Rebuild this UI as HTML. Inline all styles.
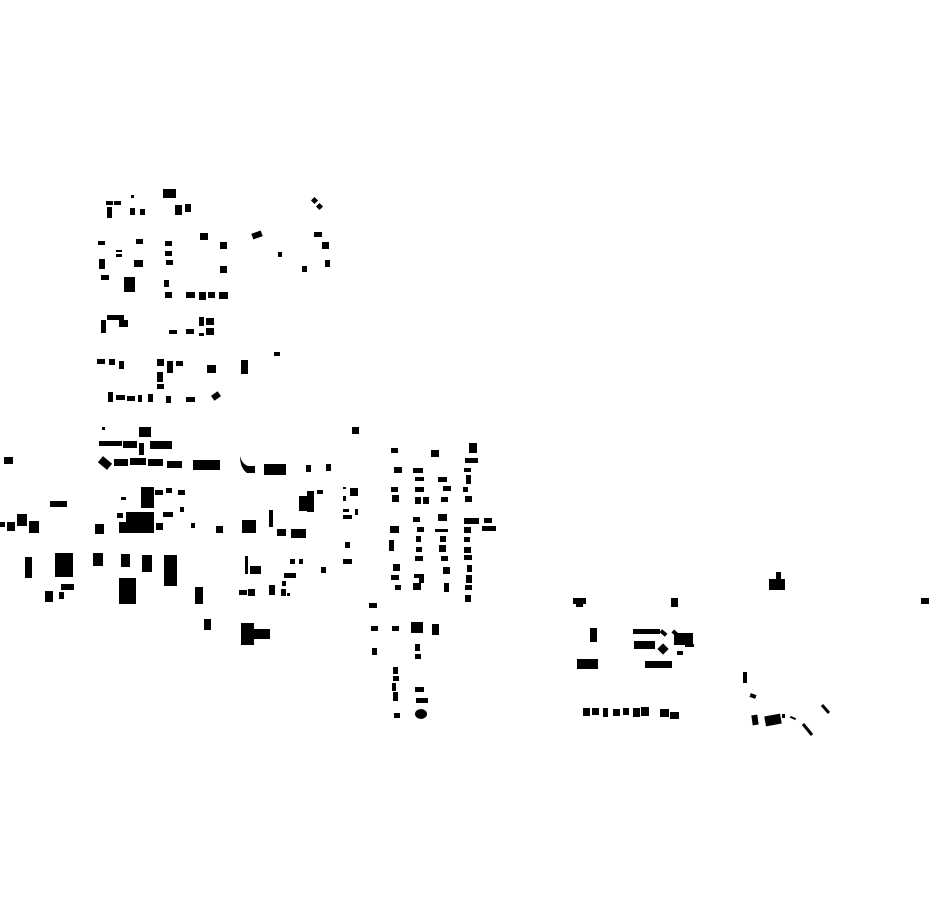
<!DOCTYPE html>
<html><head><meta charset="utf-8"><style>html,body{margin:0;padding:0;background:#fff;width:930px;height:924px;overflow:hidden}</style></head>
<body>
<svg width="930" height="924" viewBox="0 0 930 924" xmlns="http://www.w3.org/2000/svg">
<g fill="#000">
<!-- NW cluster -->
<rect x="106" y="201" width="7" height="4"/><rect x="114" y="201" width="7" height="4"/>
<rect x="107" y="207" width="5" height="11"/><rect x="131" y="195" width="3" height="3"/>
<rect x="163" y="189" width="13" height="9"/><rect x="130" y="208" width="5" height="7"/>
<rect x="140" y="209" width="5" height="6"/><rect x="175" y="205" width="7" height="10"/>
<rect x="185" y="204" width="6" height="8"/>
<rect x="312" y="198" width="5" height="5" transform="rotate(45 314.5 200.5)"/>
<rect x="317" y="204" width="5" height="5" transform="rotate(45 319.5 206.5)"/>
<rect x="98" y="241" width="7" height="4"/><rect x="136" y="239" width="7" height="5"/>
<rect x="165" y="241" width="7" height="5"/><rect x="200" y="233" width="8" height="7"/>
<rect x="252" y="232" width="10" height="6" transform="rotate(-20 257 235)"/>
<rect x="314" y="232" width="8" height="5"/><rect x="116" y="250" width="6" height="2"/>
<rect x="116" y="254" width="6" height="3"/><rect x="165" y="251" width="7" height="5"/>
<rect x="220" y="242" width="7" height="7"/><rect x="322" y="242" width="7" height="7"/>
<rect x="99" y="259" width="6" height="10"/><rect x="134" y="260" width="9" height="7"/>
<rect x="166" y="260" width="7" height="5"/><rect x="278" y="252" width="4" height="5"/>
<rect x="220" y="266" width="7" height="7"/><rect x="302" y="266" width="5" height="6"/>
<rect x="325" y="260" width="5" height="7"/><rect x="101" y="275" width="8" height="5"/>
<rect x="124" y="277" width="11" height="15"/><rect x="164" y="280" width="5" height="7"/>
<rect x="165" y="292" width="7" height="6"/><rect x="186" y="292" width="9" height="6"/>
<rect x="199" y="292" width="7" height="8"/><rect x="208" y="292" width="7" height="6"/>
<rect x="219" y="292" width="9" height="7"/>
<rect x="107" y="315" width="17" height="5"/><rect x="119" y="320" width="9" height="7"/>
<rect x="101" y="320" width="5" height="13"/>
<rect x="169" y="330" width="8" height="4"/><rect x="186" y="329" width="8" height="5"/>
<rect x="199" y="317" width="5" height="9"/><rect x="206" y="318" width="8" height="7"/>
<rect x="199" y="333" width="5" height="3"/><rect x="206" y="328" width="8" height="7"/>
<rect x="274" y="352" width="6" height="4"/>
<rect x="97" y="359" width="8" height="5"/><rect x="109" y="359" width="6" height="6"/>
<rect x="119" y="361" width="5" height="8"/><rect x="157" y="359" width="7" height="7"/>
<rect x="167" y="361" width="6" height="12"/><rect x="176" y="361" width="7" height="5"/>
<rect x="207" y="365" width="9" height="8"/><rect x="241" y="360" width="7" height="14"/>
<rect x="157" y="372" width="6" height="10"/><rect x="157" y="384" width="7" height="5"/>
<rect x="108" y="392" width="5" height="10"/><rect x="116" y="395" width="9" height="5"/>
<rect x="127" y="396" width="8" height="5"/><rect x="138" y="395" width="4" height="7"/>
<rect x="148" y="394" width="5" height="8"/><rect x="166" y="396" width="5" height="7"/>
<rect x="186" y="397" width="9" height="5"/>
<rect x="212" y="393" width="8" height="6" transform="rotate(-35 216 396)"/>
<!-- W cluster -->
<rect x="102" y="427" width="3" height="3"/><rect x="139" y="427" width="12" height="10"/>
<rect x="99" y="441" width="23" height="5"/><rect x="123" y="441" width="14" height="7"/>
<rect x="139" y="443" width="5" height="12"/><rect x="150" y="441" width="22" height="8"/>
<rect x="4" y="457" width="9" height="7"/>
<rect x="99" y="459" width="12" height="8" transform="rotate(40 105 463)"/>
<rect x="114" y="459" width="14" height="7"/><rect x="130" y="458" width="16" height="7"/>
<rect x="148" y="459" width="15" height="7"/><rect x="167" y="461" width="15" height="7"/>
<rect x="193" y="460" width="27" height="10"/>
<path d="M240 456 Q242 464 248 466 L255 466 L255 473 L247 473 Q240 468 240 456 Z"/>
<rect x="264" y="464" width="22" height="11"/>
<rect x="306" y="465" width="5" height="7"/><rect x="326" y="464" width="5" height="7"/>
<rect x="352" y="427" width="7" height="7"/><rect x="50" y="501" width="17" height="6"/>
<rect x="141" y="487" width="13" height="21"/><rect x="155" y="490" width="8" height="5"/>
<rect x="166" y="488" width="6" height="5"/><rect x="178" y="490" width="7" height="5"/>
<rect x="121" y="497" width="5" height="3"/><rect x="117" y="513" width="6" height="5"/>
<rect x="126" y="512" width="28" height="21"/><rect x="119" y="522" width="10" height="11"/>
<rect x="163" y="512" width="10" height="5"/><rect x="180" y="507" width="4" height="5"/>
<rect x="156" y="523" width="7" height="7"/><rect x="191" y="523" width="4" height="5"/>
<rect x="0" y="522" width="5" height="5"/><rect x="7" y="522" width="8" height="9"/>
<rect x="17" y="514" width="10" height="12"/><rect x="29" y="521" width="10" height="12"/>
<rect x="95" y="524" width="9" height="10"/><rect x="216" y="526" width="7" height="7"/>
<rect x="242" y="520" width="14" height="13"/><rect x="269" y="510" width="4" height="17"/>
<rect x="277" y="529" width="9" height="7"/><rect x="291" y="529" width="15" height="9"/>
<rect x="299" y="496" width="9" height="15"/><rect x="307" y="491" width="7" height="21"/>
<rect x="317" y="490" width="6" height="4"/><rect x="343" y="487" width="3" height="2"/>
<rect x="350" y="488" width="8" height="8"/><rect x="343" y="496" width="3" height="5"/>
<rect x="343" y="509" width="6" height="3"/><rect x="343" y="515" width="9" height="4"/>
<rect x="355" y="509" width="3" height="6"/><rect x="345" y="542" width="5" height="6"/>
<rect x="343" y="559" width="9" height="5"/>
<rect x="25" y="557" width="7" height="21"/><rect x="55" y="553" width="18" height="24"/>
<rect x="93" y="553" width="10" height="13"/><rect x="121" y="554" width="9" height="13"/>
<rect x="142" y="555" width="10" height="17"/><rect x="164" y="555" width="13" height="31"/>
<rect x="61" y="584" width="13" height="6"/><rect x="45" y="591" width="8" height="11"/>
<rect x="59" y="592" width="5" height="7"/><rect x="119" y="578" width="17" height="26"/>
<rect x="195" y="587" width="8" height="17"/><rect x="204" y="619" width="7" height="11"/>
<rect x="241" y="623" width="13" height="22"/><rect x="253" y="629" width="17" height="10"/>
<rect x="245" y="556" width="3" height="18"/><rect x="250" y="566" width="11" height="8"/>
<rect x="239" y="590" width="8" height="5"/><rect x="248" y="589" width="7" height="7"/>
<rect x="269" y="585" width="6" height="10"/><rect x="282" y="581" width="4" height="5"/>
<rect x="281" y="589" width="5" height="7"/><rect x="287" y="593" width="3" height="3"/>
<rect x="284" y="573" width="12" height="5"/><rect x="290" y="559" width="5" height="5"/>
<rect x="299" y="559" width="4" height="5"/><rect x="321" y="567" width="5" height="6"/>
<!-- Middle cluster -->
<rect x="391" y="448" width="7" height="5"/><rect x="431" y="450" width="8" height="7"/>
<rect x="469" y="443" width="8" height="10"/><rect x="465" y="458" width="13" height="5"/>
<rect x="394" y="467" width="8" height="6"/><rect x="413" y="468" width="10" height="5"/>
<rect x="464" y="468" width="7" height="4"/><rect x="415" y="477" width="9" height="4"/>
<rect x="438" y="477" width="9" height="5"/><rect x="466" y="475" width="5" height="9"/>
<rect x="391" y="487" width="7" height="5"/><rect x="415" y="487" width="9" height="5"/>
<rect x="443" y="486" width="8" height="5"/><rect x="463" y="487" width="5" height="5"/>
<rect x="392" y="495" width="7" height="7"/><rect x="415" y="497" width="6" height="7"/>
<rect x="423" y="497" width="6" height="7"/><rect x="441" y="497" width="7" height="5"/>
<rect x="465" y="496" width="7" height="6"/><rect x="413" y="517" width="7" height="5"/>
<rect x="438" y="514" width="9" height="7"/><rect x="464" y="518" width="15" height="6"/>
<rect x="484" y="518" width="8" height="5"/><rect x="390" y="526" width="9" height="7"/>
<rect x="417" y="527" width="7" height="5"/><rect x="435" y="529" width="13" height="3"/>
<rect x="464" y="527" width="7" height="6"/><rect x="482" y="526" width="14" height="5"/>
<rect x="416" y="536" width="5" height="6"/><rect x="440" y="536" width="6" height="6"/>
<rect x="389" y="540" width="5" height="11"/><rect x="464" y="537" width="6" height="5"/>
<rect x="416" y="547" width="6" height="5"/><rect x="439" y="545" width="7" height="7"/>
<rect x="464" y="547" width="7" height="6"/><rect x="415" y="556" width="8" height="5"/>
<rect x="441" y="556" width="7" height="5"/><rect x="464" y="555" width="8" height="5"/>
<rect x="393" y="564" width="7" height="7"/><rect x="443" y="567" width="7" height="7"/>
<rect x="467" y="565" width="5" height="7"/><rect x="391" y="575" width="8" height="5"/>
<rect x="414" y="574" width="10" height="4"/><rect x="419" y="574" width="5" height="9"/>
<rect x="466" y="575" width="6" height="8"/><rect x="395" y="585" width="6" height="5"/>
<rect x="413" y="583" width="8" height="7"/><rect x="444" y="583" width="5" height="9"/>
<rect x="465" y="585" width="7" height="5"/><rect x="465" y="595" width="6" height="7"/>
<rect x="369" y="603" width="8" height="5"/><rect x="371" y="626" width="7" height="5"/>
<rect x="392" y="626" width="7" height="5"/><rect x="411" y="622" width="12" height="11"/>
<rect x="432" y="624" width="7" height="11"/><rect x="372" y="648" width="5" height="7"/>
<rect x="415" y="644" width="5" height="7"/><rect x="415" y="654" width="6" height="5"/>
<rect x="393" y="667" width="5" height="7"/><rect x="393" y="676" width="6" height="5"/>
<rect x="392" y="683" width="4" height="8"/><rect x="393" y="692" width="5" height="9"/>
<rect x="415" y="687" width="9" height="5"/><rect x="416" y="698" width="12" height="5"/>
<rect x="394" y="713" width="6" height="5"/><ellipse cx="421" cy="714" rx="6" ry="5"/>
<!-- East cluster -->
<path d="M573 598 H586 V604 H583 V607 H576 V604 H573 Z"/>
<rect x="671" y="598" width="7" height="9"/>
<rect x="769" y="579" width="16" height="11"/><rect x="776" y="572" width="5" height="8"/>
<rect x="921" y="598" width="8" height="6"/>
<rect x="590" y="628" width="7" height="14"/>
<rect x="633" y="629" width="27" height="5"/>
<rect x="660" y="631" width="7" height="4" transform="rotate(40 663.5 633)"/>
<rect x="634" y="641" width="21" height="8"/>
<rect x="659" y="645" width="8" height="8" transform="rotate(45 663 649)"/>
<rect x="674" y="633" width="19" height="12"/>
<rect x="672" y="631" width="6" height="4" transform="rotate(40 675 633)"/>
<rect x="685" y="644" width="9" height="3"/><rect x="677" y="651" width="6" height="4"/>
<rect x="577" y="659" width="21" height="10"/>
<rect x="645" y="661" width="27" height="7"/>
<rect x="743" y="672" width="4" height="11"/>
<rect x="750" y="694" width="6" height="4" transform="rotate(20 753 696)"/>
<rect x="583" y="708" width="7" height="8"/><rect x="592" y="708" width="7" height="7"/>
<rect x="603" y="708" width="5" height="9"/><rect x="613" y="709" width="7" height="7"/>
<rect x="623" y="708" width="6" height="7"/><rect x="633" y="708" width="7" height="9"/>
<rect x="641" y="707" width="8" height="9"/><rect x="660" y="709" width="9" height="8"/>
<rect x="670" y="712" width="9" height="7"/>
<rect x="752" y="715" width="6" height="10" transform="rotate(-8 755 720)"/>
<rect x="765" y="715" width="16" height="10" transform="rotate(-10 773 720)"/>
<rect x="782" y="714" width="3" height="4"/>
<rect x="790" y="717" width="6" height="2" transform="rotate(25 793 718)"/>
</g>
<g stroke="#000" stroke-width="3">
<line x1="822" y1="705" x2="829" y2="713"/>
<line x1="803" y1="724" x2="812" y2="735"/>
</g>
</svg>
</body></html>
